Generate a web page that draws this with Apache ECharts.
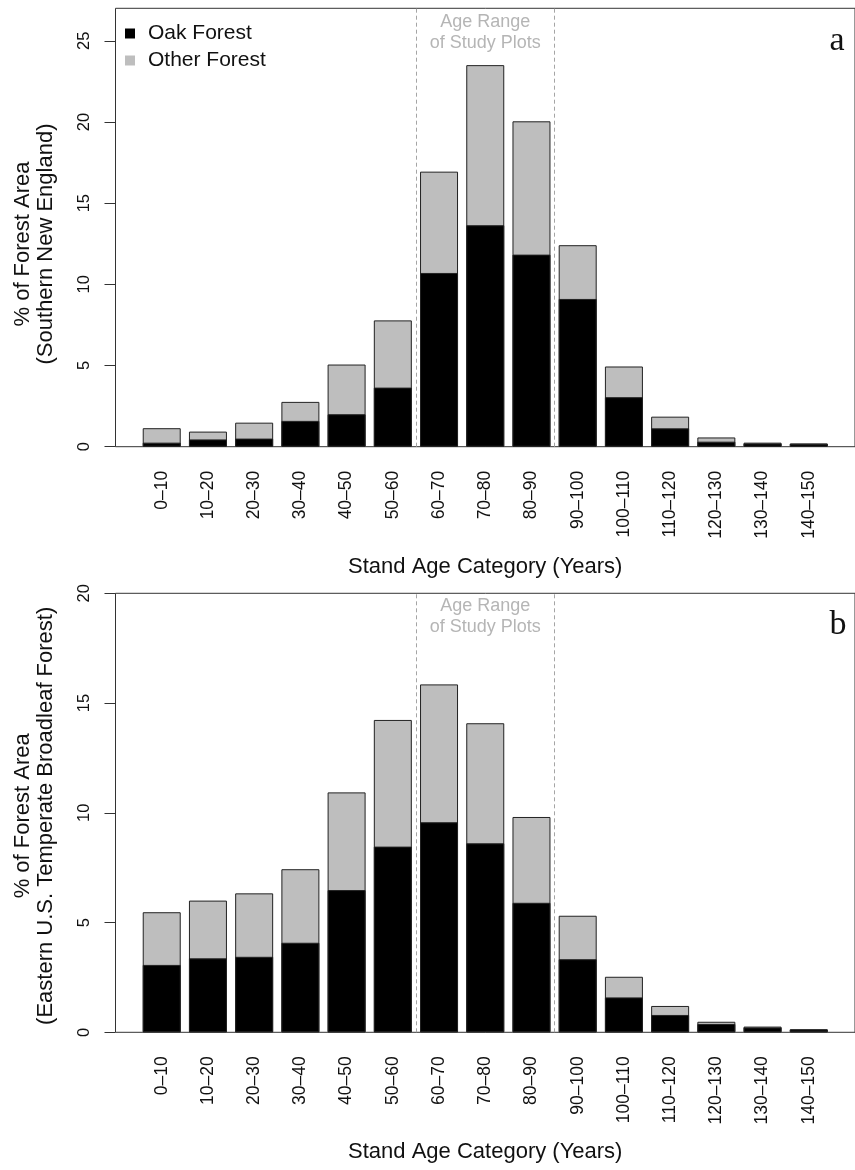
<!DOCTYPE html>
<html>
<head>
<meta charset="utf-8">
<script src="https://cdn.jsdelivr.net/npm/echarts@6/dist/echarts.min.js"></script>
<style>
  html, body { margin: 0; padding: 0; background: #fff; }
  #chart { width: 855px; height: 1170px; }
</style>
</head>
<body>
<div id="chart"></div>
<script>
// ---- data ----
const categories = ['0\u201310', '10\u201320', '20\u201330', '30\u201340', '40\u201350', '50\u201360', '60\u201370',
  '70\u201380', '80\u201390', '90\u2013100', '100\u2013110', '110\u2013120', '120\u2013130', '130\u2013140', '140\u2013150'];

// Panel a: Southern New England
const oakA   = [0.25, 0.45, 0.50, 1.59, 2.00, 3.64, 10.70, 13.64, 11.83, 9.10, 3.05, 1.13, 0.31, 0.20, 0.18];
const otherA = [0.89, 0.48, 0.98, 1.17, 3.06, 4.14, 6.24, 9.86, 8.21, 3.31, 1.89, 0.72, 0.26, 0.05, 0.02];

// Panel b: Eastern U.S. Temperate Broadleaf Forest
const oakB   = [3.07, 3.37, 3.44, 4.08, 6.48, 8.46, 9.57, 8.61, 5.90, 3.33, 1.59, 0.79, 0.38, 0.22, 0.13];
const otherB = [2.40, 2.63, 2.89, 3.35, 4.45, 5.77, 6.28, 5.47, 3.91, 1.98, 0.94, 0.41, 0.10, 0.04, 0.01];

const yTicksA = [0, 5, 10, 15, 20, 25];
const yTicksB = [0, 5, 10, 15, 20];
const studyRange = [5.5, 8.5]; // boundaries between 50-60|60-70 and 80-90|90-100

// ---- styling ----
const SANS = '"Liberation Sans", Arial, Helvetica, sans-serif';
const SERIF = '"Liberation Serif", "Times New Roman", serif';
const catIdx = categories.map((c, i) => i);

function xAxisFor(gi) {
  return {
    type: 'value', gridIndex: gi, min: -1, max: 15,
    axisLine: { show: false, onZero: false }, splitLine: { show: false },
    axisTick: { show: false },
    axisLabel: {
      customValues: catIdx, rotate: 90, margin: 24,
      fontFamily: SANS, fontSize: 17.5, color: '#111',
      formatter: v => categories[Math.round(v)] || ''
    },
    name: 'Stand Age Category (Years)', nameLocation: 'middle', nameGap: 109,
    nameTextStyle: { fontFamily: SANS, fontSize: 22, color: '#111' }
  };
}
function yAxisFor(gi, max, ticks, name, pad) {
  return {
    type: 'value', gridIndex: gi, min: 0, max: max,
    axisLine: { show: false, onZero: false }, splitLine: { show: false },
    axisTick: { show: true, customValues: ticks, length: 11, lineStyle: { color: '#333', width: 1 } },
    axisLabel: { customValues: ticks, rotate: 90, margin: 23, fontFamily: SANS, fontSize: 16.5, color: '#111' },
    name: name, nameLocation: 'middle', nameGap: 58,
    nameTextStyle: { fontFamily: SANS, fontSize: 22, lineHeight: 23, color: '#111', padding: pad }
  };
}
// stacked look: the grey bar spans oak + other, the black oak bar is drawn over its lower part
function barSeries(name, vals, gi, color, withLines) {
  const s = {
    type: 'bar', name: name, xAxisIndex: gi, yAxisIndex: gi,
    barWidth: 38, barGap: '-100%',
    data: vals.map((v, i) => [i, v]),
    itemStyle: { color: color, borderColor: '#222', borderWidth: 1 },
    emphasis: { disabled: true },
    silent: true
  };
  if (withLines) {
    s.markLine = {
      silent: true, symbol: 'none', label: { show: false },
      lineStyle: { type: [4, 3], color: '#a5a5a5', width: 1 },
      data: studyRange.map(x => ({ xAxis: x }))
    };
  }
  return s;
}
function annotation(gi, yv) {
  return {
    type: 'scatter', xAxisIndex: gi, yAxisIndex: gi, silent: true,
    symbolSize: 0, data: [[(studyRange[0] + studyRange[1]) / 2, yv]],
    label: {
      show: true, position: 'inside', formatter: 'Age Range\nof Study Plots',
      fontFamily: SANS, fontSize: 18, lineHeight: 21.5, color: '#a3a3a3'
    }
  };
}
const sum = (a, b) => a.map((v, i) => v + b[i]);

const gridBase = { left: 115.5, width: 746.4, show: true, borderColor: '#333', borderWidth: 1, backgroundColor: 'transparent' };

const option = {
  animation: false,
  backgroundColor: '#fff',
  grid: [
    Object.assign({ top: 8.3, height: 438.4 }, gridBase),
    Object.assign({ top: 593.3, height: 439 }, gridBase)
  ],
  xAxis: [xAxisFor(0), xAxisFor(1)],
  yAxis: [
    yAxisFor(0, 27, yTicksA, '% of Forest Area\n(Southern New England)', [0, 33, 0, 0]),
    yAxisFor(1, 20, yTicksB, '% of Forest Area\n(Eastern U.S. Temperate Broadleaf Forest)', [0, 6, 0, 0])
  ],
  legend: {
    data: ['Oak Forest', 'Other Forest'], orient: 'vertical',
    left: 125, top: 23, padding: 0, itemWidth: 10, itemHeight: 10, itemGap: 6,
    icon: 'rect', selectedMode: false,
    itemStyle: { borderWidth: 0 },
    textStyle: { fontFamily: SANS, fontSize: 21, lineHeight: 20, color: '#111', padding: [0, 0, 0, 8] }
  },
  graphic: [
    { type: 'text', x: 837, y: 41, style: { text: 'a', fontFamily: SERIF, fontSize: 34, fill: '#111', align: 'center', verticalAlign: 'middle' } },
    { type: 'text', x: 838, y: 625.5, style: { text: 'b', fontFamily: SERIF, fontSize: 34, fill: '#111', align: 'center', verticalAlign: 'middle' } }
  ],
  series: [
    barSeries('Other Forest', sum(oakA, otherA), 0, '#bebebe', true),
    barSeries('Oak Forest', oakA, 0, '#000', false),
    barSeries('Other Forest', sum(oakB, otherB), 1, '#bebebe', true),
    barSeries('Oak Forest', oakB, 1, '#000', false),
    annotation(0, 25.5),
    annotation(1, 18.95)
  ]
};

const chart = echarts.init(document.getElementById('chart'), null, { renderer: 'canvas' });
chart.setOption(option);
</script>
</body>
</html>
